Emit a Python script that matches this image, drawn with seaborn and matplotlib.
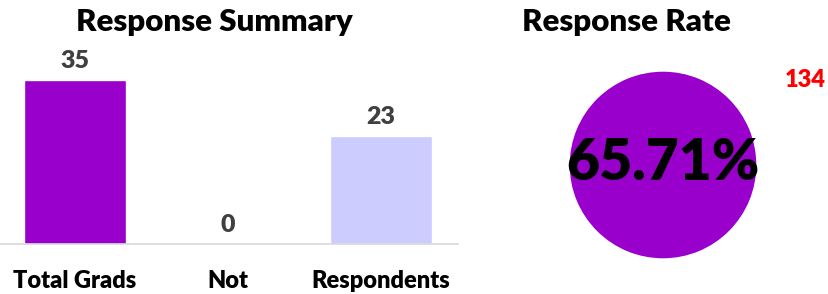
import seaborn as sns
import matplotlib.pyplot as plt
import pandas as pd

categories = ['Total Grads', 'Not', 'Respondents']
counts = [35, 0, 23]
bar_colors = ['#9900CC', '#9900CC', '#CCCCFF']
rate_label = '65.71%'
corner_number = '134'

sns.set_theme(style='white')
plt.rcParams['font.family'] = ['Lato', 'DejaVu Sans']
plt.rcParams['font.weight'] = 'bold'

df = pd.DataFrame({'category': categories, 'count': counts})

fig = plt.figure(figsize=(8.29, 2.94), dpi=100)
W, H = 829, 294

# bar chart: Response Summary
ax = fig.add_axes([0 / W, 50 / H, 458 / W, 187 / H])
sns.barplot(data=df, x='category', y='count', hue='category',
            palette=bar_colors, legend=False, width=0.667, saturation=1, ax=ax)
for c in ax.containers:
    ax.bar_label(c, padding=6, fontsize=18, fontweight='heavy', color='#404040')
ax.set_xlim(-0.49, 2.503)
ax.set_ylim(0, 40)
ax.set_xlabel('')
ax.set_ylabel('')
ax.set_yticks([])
ax.tick_params(axis='x', length=0, pad=19, labelsize=17)
for lbl in ax.get_xticklabels():
    lbl.set_fontweight('heavy')
    lbl.set_color('black')
sns.despine(ax=ax, left=True, top=True, right=True)
ax.spines['bottom'].set_color('#d9d9d9')
ax.spines['bottom'].set_linewidth(1.2)

fig.text(214 / W, 1 - 22 / H, 'Response Summary', ha='center', va='center',
         fontsize=22.5, fontweight='heavy', color='black')

# circle: Response Rate
ax2 = fig.add_axes([569 / W, 35 / H, 188 / W, 188 / H])
ax2.pie([counts[2]], colors=['#9900CC'], startangle=90)
ax2.set_xlim(-1, 1)
ax2.set_ylim(-1, 1)
ax2.set_aspect('equal')
ax2.axis('off')
ax2.text(0, 0.02, rate_label, ha='center', va='center', fontsize=41,
         fontweight='heavy', color='black')

fig.text(626 / W, 1 - 22 / H, 'Response Rate', ha='center', va='center',
         fontsize=22.5, fontweight='heavy', color='black')
fig.text(805 / W, 1 - 80 / H, corner_number, ha='center', va='center',
         fontsize=17, fontweight='heavy', color='red')

fig.savefig('out.png', dpi=100)
